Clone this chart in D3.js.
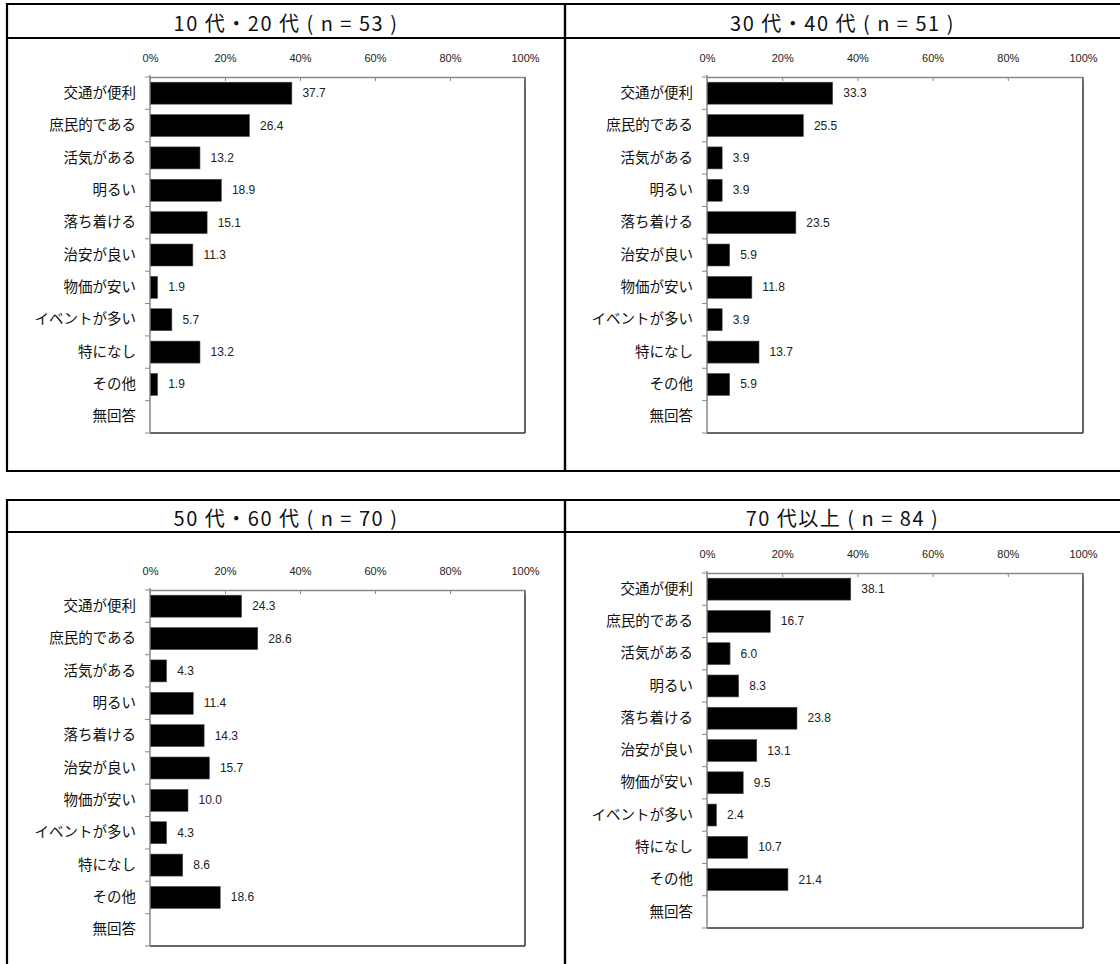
<!DOCTYPE html>
<html><head><meta charset="utf-8">
<script src="https://cdn.jsdelivr.net/npm/d3@7"></script>
<style>
html,body{margin:0;padding:0;background:#fff;}
svg{display:block;}
text{font-family:"Liberation Sans","Noto Sans CJK JP",sans-serif;}
</style></head>
<body>
<svg id="c" width="1120" height="964"></svg>
<script>
const categories = ["交通が便利","庶民的である","活気がある","明るい","落ち着ける","治安が良い","物価が安い","イベントが多い","特になし","その他","無回答"];
const titles = ["10 代・20 代 ( n = 53 )","30 代・40 代 ( n = 51 )","50 代・60 代 ( n = 70 )","70 代以上 ( n = 84 )"];
const values1020 = [37.7,26.4,13.2,18.9,15.1,11.3,1.9,5.7,13.2,1.9,null];
const values3040 = [33.3,25.5,3.9,3.9,23.5,5.9,11.8,3.9,13.7,5.9,null];
const values5060 = [24.3,28.6,4.3,11.4,14.3,15.7,10.0,4.3,8.6,18.6,null];
const values70 = [38.1,16.7,6.0,8.3,23.8,13.1,9.5,2.4,10.7,21.4,null];
const tickValues = [0,20,40,60,80,100];

const series = [values1020, values3040, values5060, values70];
// layout
const panels = [
  {fx0:7, fx1:565, ftop:4, fdiv:38, fbot:471, px0:150, px1:525, py0:77, py1:433},
  {fx0:565, fx1:1122, ftop:4, fdiv:38, fbot:471, px0:707, px1:1083, py0:77, py1:433},
  {fx0:7, fx1:565, ftop:500, fdiv:532, fbot:966, px0:150, px1:525, py0:590, py1:946},
  {fx0:565, fx1:1122, ftop:500, fdiv:532, fbot:966, px0:707, px1:1083, py0:573, py1:928}
];

const svg = d3.select("#c");
const frame = svg.append("g");

panels.forEach((p, i) => {
  const vals = series[i];
  const g = svg.append("g");
  // frame
  frame.append("line").attr("x1",p.fx0-1).attr("x2",p.fx1).attr("y1",p.ftop).attr("y2",p.ftop);
  frame.append("line").attr("x1",p.fx0-1).attr("x2",p.fx1).attr("y1",p.fdiv).attr("y2",p.fdiv);
  frame.append("line").attr("x1",p.fx0-1).attr("x2",p.fx1).attr("y1",p.fbot).attr("y2",p.fbot);
  frame.append("line").attr("x1",p.fx0).attr("x2",p.fx0).attr("y1",p.ftop).attr("y2",p.fbot);
  frame.append("line").attr("x1",p.fx1).attr("x2",p.fx1).attr("y1",p.ftop).attr("y2",p.fbot);

  g.append("text").attr("x",(p.fx0+Math.min(p.fx1,1120))/2).attr("y",(p.ftop+p.fdiv)/2+1)
    .attr("text-anchor","middle").attr("dominant-baseline","central")
    .attr("font-size",20).attr("letter-spacing","1.5px")
    .style("font-family","'Noto Sans CJK JP',sans-serif")
    .attr("fill","#111").text(titles[i]);

  const x = d3.scaleLinear().domain([0,100]).range([p.px0,p.px1]);
  const y = d3.scaleBand().domain(categories).range([p.py0,p.py1]).paddingInner(0.32).paddingOuter(0.16);

  // plot border
  g.append("line").attr("x1",p.px1).attr("x2",p.px1).attr("y1",p.py0).attr("y2",p.py1).attr("stroke","#333").attr("stroke-width",1.5);
  g.append("line").attr("x1",p.px0).attr("x2",p.px1).attr("y1",p.py1).attr("y2",p.py1).attr("stroke","#333").attr("stroke-width",1.5);

  // top axis
  const ax = g.append("g").attr("transform",`translate(0,${p.py0})`)
    .call(d3.axisTop(x).tickValues(tickValues).tickFormat(d=>d+"%").tickSizeInner(-4).tickSizeOuter(0).tickPadding(15));
  ax.select(".domain").attr("stroke","#888").attr("stroke-width",1.5);
  ax.selectAll(".tick line").attr("stroke","#888");
  ax.selectAll(".tick text").attr("font-size",11).attr("fill","#222");

  // left axis labels
  const ay = g.append("g").attr("transform",`translate(${p.px0},0)`)
    .call(d3.axisLeft(y).tickSize(0).tickPadding(14));
  ay.select(".domain").remove();
  ay.selectAll(".tick text").attr("font-size",14.5).attr("fill","#111");

  // boundary ticks
  const bounds = d3.range(categories.length+1).map(k => p.py0 + k*y.step());
  g.selectAll(".bt").data(bounds).join("line")
    .attr("x1",p.px0-5).attr("x2",p.px0).attr("y1",d=>d).attr("y2",d=>d)
    .attr("stroke","#888").attr("stroke-width",1);
  g.append("line").attr("x1",p.px0).attr("x2",p.px0).attr("y1",p.py0-2).attr("y2",p.py1).attr("stroke","#888").attr("stroke-width",1.5);

  const data = categories.map((c,k)=>({c, v: vals[k]})).filter(d=>d.v!==null);
  g.selectAll(".bar").data(data).join("rect")
    .attr("x",x(0)+0.5).attr("y",d=>y(d.c)).attr("width",d=>x(d.v)-x(0)).attr("height",y.bandwidth())
    .attr("fill","#000").attr("stroke","#555").attr("stroke-width",0.6);
  g.selectAll(".vl").data(data).join("text")
    .attr("x",d=>x(d.v)+11).attr("y",d=>y(d.c)+y.bandwidth()/2)
    .attr("dominant-baseline","central").attr("font-size",12).attr("fill","#222")
    .text(d=>d.v.toFixed(1));
});
frame.selectAll("line").attr("stroke","#000").attr("stroke-width",2.2);
</script>
</body></html>
